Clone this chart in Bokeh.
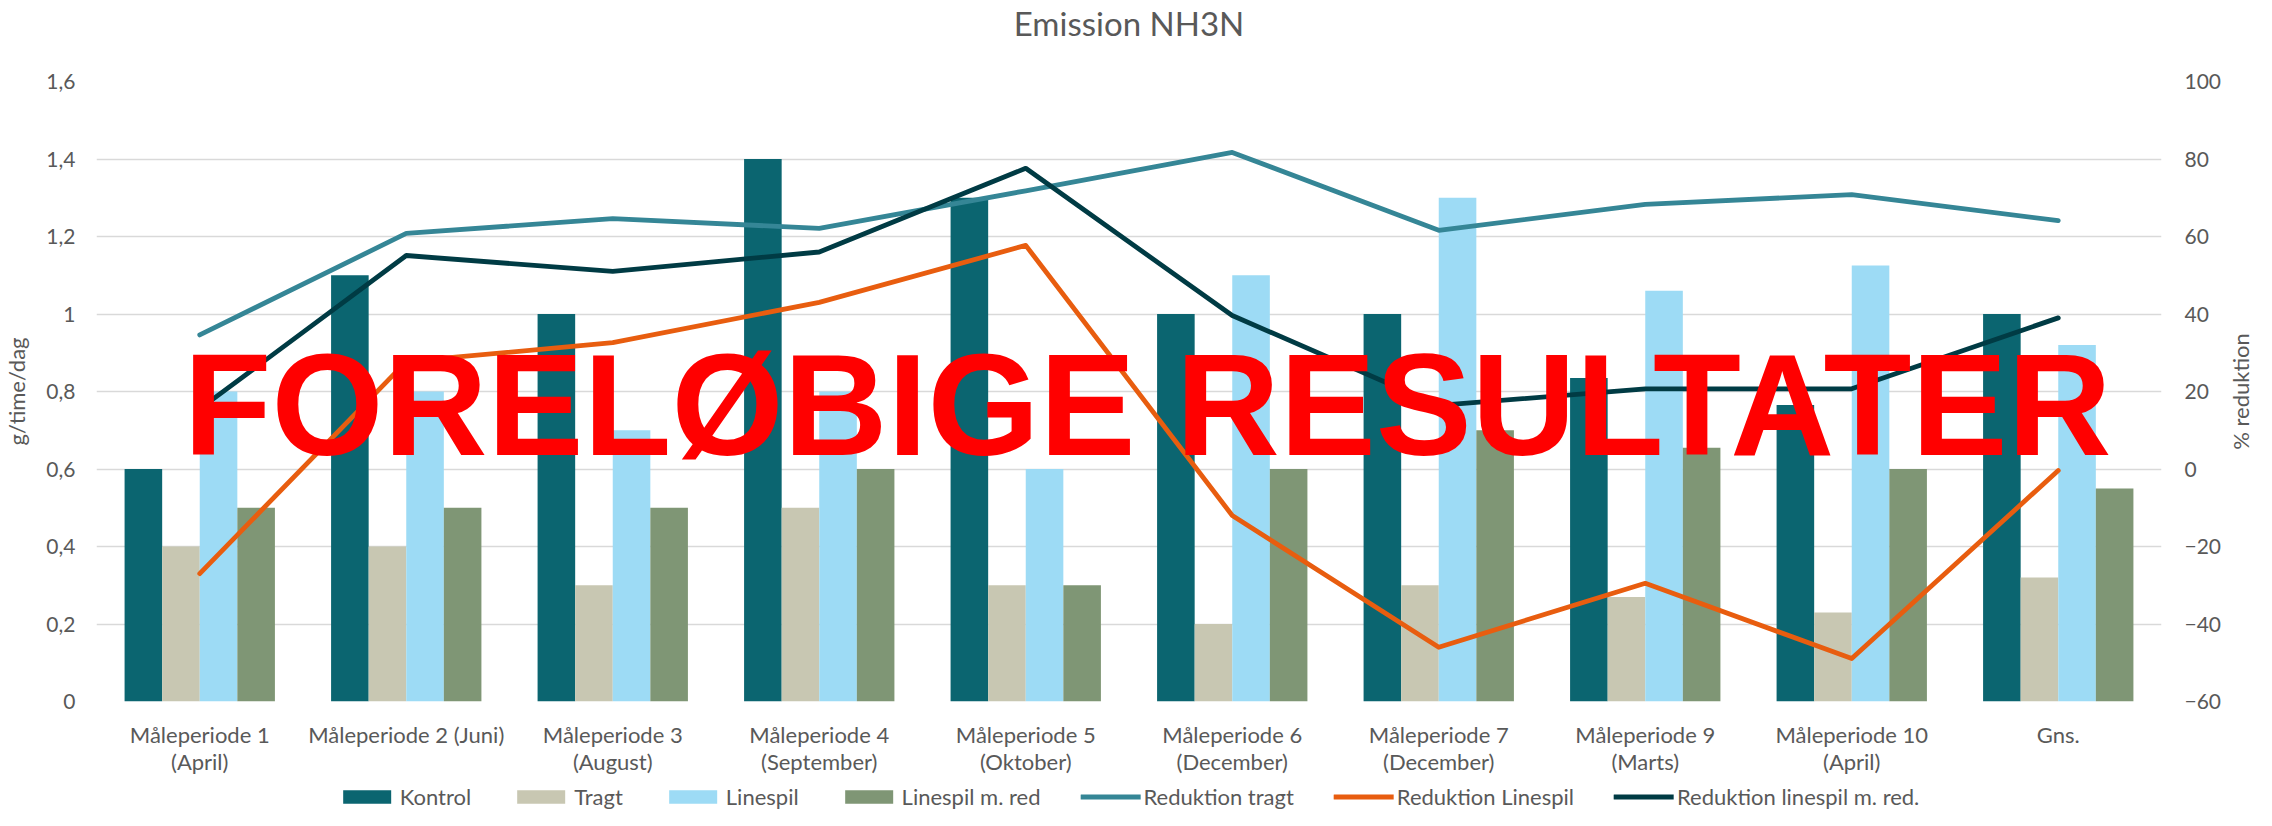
import math
from bokeh.plotting import figure
from bokeh.layouts import column, row
from bokeh.models import (ColumnDataSource, FactorRange, Range1d, LinearAxis, FixedTicker,
                          CustomJSTickFormatter, Legend, LegendItem, Label, Title)
from bokeh.transform import dodge
from bokeh.embed import file_html
from bokeh.resources import INLINE

# ---------------- data ----------------
categories = [
    "Måleperiode 1\n(April)",
    "Måleperiode 2 (Juni)",
    "Måleperiode 3\n(August)",
    "Måleperiode 4\n(September)",
    "Måleperiode 5\n(Oktober)",
    "Måleperiode 6\n(December)",
    "Måleperiode 7\n(December)",
    "Måleperiode 9\n(Marts)",
    "Måleperiode 10\n(April)",
    "Gns.",
]
kontrol = [0.6, 1.1, 1.0, 1.4, 1.3, 1.0, 1.0, 0.835, 0.765, 1.0]
tragt = [0.4, 0.4, 0.3, 0.5, 0.3, 0.2, 0.3, 0.27, 0.23, 0.32]
linespil = [0.8, 0.8, 0.7, 0.8, 0.6, 1.1, 1.3, 1.06, 1.125, 0.92]
linespil_red = [0.5, 0.5, 0.5, 0.6, 0.3, 0.6, 0.7, 0.655, 0.6, 0.55]
reduktion_tragt = [34.6, 60.8, 64.6, 62.1, 71.8, 81.7, 61.6, 68.3, 70.8, 64.1]
reduktion_linespil = [-27.0, 27.7, 32.6, 43.0, 57.7, -12.0, -46.0, -29.5, -48.9, -0.4]
reduktion_linespil_red = [15.5, 55.1, 51.0, 56.0, 77.6, 39.6, 16.4, 20.7, 20.7, 39.0]

left_ticks = [0, 0.2, 0.4, 0.6, 0.8, 1.0, 1.2, 1.4, 1.6]
right_ticks = [-60, -40, -20, 0, 20, 40, 60, 80, 100]

title_text = "Emission NH3N"
left_title = "g/time/dag"
right_title = "% reduktion"
watermark_text = "FORELØBIGE RESULTATER"

# ---------------- style ----------------
TEXT = "#595959"
FONT = "Lato"
GRID = "#D9D9D9"

source = ColumnDataSource(dict(
    cat=categories, kontrol=kontrol, tragt=tragt, linespil=linespil,
    linespil_red=linespil_red, red_tragt=reduktion_tragt,
    red_linespil=reduktion_linespil, red_linespil_red=reduktion_linespil_red,
))

p = figure(
    x_range=FactorRange(*categories), y_range=Range1d(0, 1.6),
    width=2224, height=781,
    min_border_left=90, min_border_right=62, min_border_top=73, min_border_bottom=80,
    output_backend="svg", toolbar_location=None,
    background_fill_color="white", border_fill_color="white", outline_line_color=None,
)
p.extra_y_ranges = {"pct": Range1d(-60, 100)}

# spacer (closest to the frame) then the real title above it
p.add_layout(Title(text=" ", text_font=FONT, text_font_size="24px", standoff=8), "above")
p.add_layout(Title(text=title_text, align="center", text_font=FONT, text_font_size="33px",
                   text_font_style="normal", text_color=TEXT, standoff=0), "above")

bar_specs = [
    ("kontrol", -0.273, "#0B6570", "Kontrol"),
    ("tragt", -0.091, "#C8C7B2", "Tragt"),
    ("linespil", 0.091, "#9DDBF5", "Linespil"),
    ("linespil_red", 0.273, "#7F9675", "Linespil m. red"),
]
line_specs = [
    ("red_tragt", "#358696", "Reduktion tragt"),
    ("red_linespil", "#E85D0F", "Reduktion Linespil"),
    ("red_linespil_red", "#003B44", "Reduktion linespil m. red."),
]

for field, off, color, name in bar_specs:
    p.vbar(x=dodge("cat", off, range=p.x_range), top=field, width=0.182, bottom=0,
           source=source, fill_color=color, line_color=None)
for field, color, name in line_specs:
    p.line(x="cat", y=field, source=source, y_range_name="pct", line_color=color,
           line_width=4.8, line_cap="round", line_join="round")

# axes
left = p.left[0]
left.ticker = FixedTicker(ticks=left_ticks)
left.formatter = CustomJSTickFormatter(
    code="return (Math.round(tick*10)/10).toString().replace('.', ',');")
left.axis_label = left_title
left.axis_label_standoff = 13
left.axis_label_text_font = FONT
left.axis_label_text_font_size = "22px"
left.axis_label_text_font_style = "normal"
left.axis_label_text_color = TEXT

right = LinearAxis(y_range_name="pct", ticker=FixedTicker(ticks=right_ticks))
p.add_layout(right, "right")

xax = p.below[0]
for ax in (left, right, xax):
    ax.axis_line_color = None
    ax.major_tick_line_color = None
    ax.minor_tick_line_color = None
    ax.major_tick_out = 0
    ax.major_tick_in = 0
    ax.major_label_text_font = FONT
    ax.major_label_text_color = TEXT
left.major_label_text_font_size = "21px"
right.major_label_text_font_size = "21px"
left.major_label_standoff = 21
right.major_label_standoff = 23
xax.major_label_text_font_size = "22px"
xax.major_label_text_line_height = 1.0
xax.major_label_standoff = 19

p.ygrid[0].ticker = FixedTicker(ticks=left_ticks)
p.ygrid.grid_line_color = GRID
p.ygrid.grid_line_width = 1.5
p.xgrid.grid_line_color = None

watermark = Label(x=5.09, y=0.765, text=watermark_text, text_font="Liberation Sans",
                  text_font_style="bold", text_font_size="144px", text_color="#FF0000",
                  text_align="center", text_baseline="alphabetic")
p.add_layout(watermark)

# ---------------- right-hand axis title strip (reads bottom to top) ----------------
rstrip = figure(width=32, height=781, min_border_left=0, min_border_right=0,
                min_border_top=73, min_border_bottom=80,
                x_axis_type=None, y_axis_type=None, output_backend="svg",
                toolbar_location=None, outline_line_color=None,
                background_fill_color="white", border_fill_color="white")
rstrip.add_layout(Title(text=right_title, align="center", text_font=FONT,
                        text_font_size="22px", text_font_style="normal",
                        text_color=TEXT, standoff=0), "left")

# ---------------- legend strip ----------------
leg = figure(width=2256, height=29, min_border=0, x_range=(0, 1), y_range=(0, 1),
             x_axis_type=None, y_axis_type=None, output_backend="svg",
             toolbar_location=None, outline_line_color=None,
             background_fill_color="white", border_fill_color="white")
items = []
for field, off, color, name in bar_specs:
    # legend-only swatch, kept outside the strip's visible range
    r = leg.vbar(x=[5], top=[6], bottom=[5], width=0.1, fill_color=color, line_color=None)
    items.append(LegendItem(label=name, renderers=[r]))
for field, color, name in line_specs:
    r = leg.line(x=[5, 6], y=[5, 5], line_color=color, line_width=4.8, line_cap="round")
    items.append(LegendItem(label=name, renderers=[r]))
legend = Legend(items=items, orientation="horizontal", location="bottom",
                border_line_color=None, background_fill_alpha=0, padding=0, margin=0,
                spacing=40, glyph_width=60, glyph_height=17, label_standoff=3,
                label_text_font=FONT, label_text_font_size="22px", label_text_color=TEXT,
                label_text_line_height=1.0)
leg.add_layout(legend)

layout = column(row(p, rstrip, spacing=0), leg, spacing=0)
open("out.html", "w").write(file_html(layout, INLINE))
